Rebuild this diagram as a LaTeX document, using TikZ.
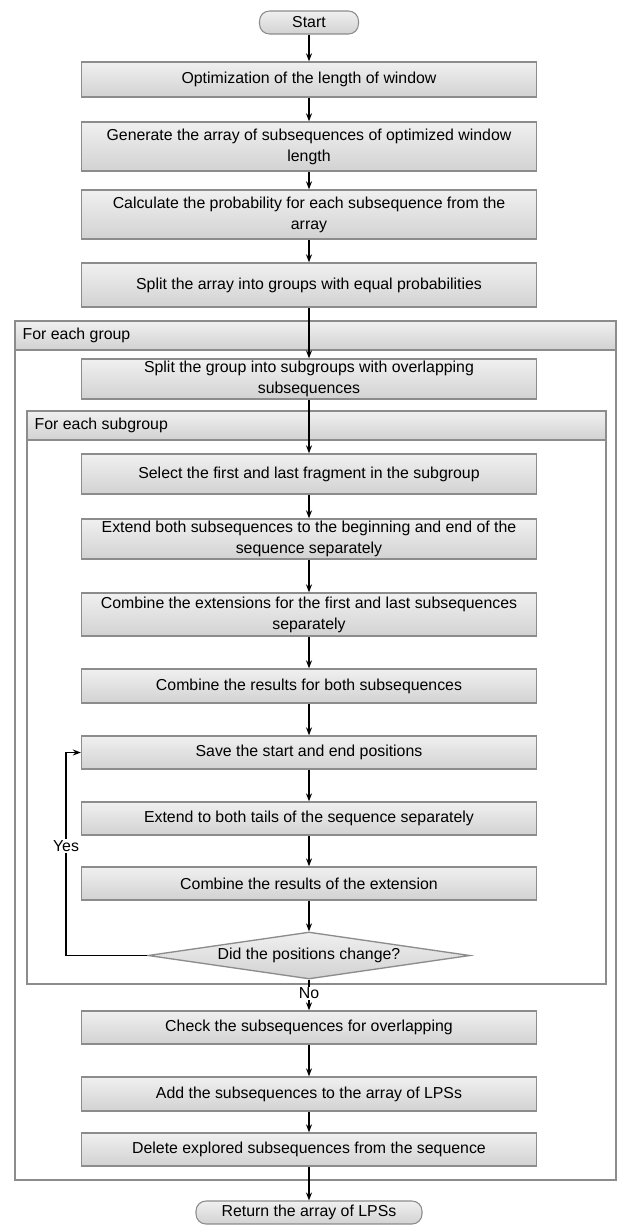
\documentclass[tikz,border=0pt]{standalone}
\usepackage{fontspec}
\setmainfont{Liberation Sans}
\usetikzlibrary{arrows.meta,shapes.geometric}
\definecolor{boxline}{HTML}{8C8C8C}
\definecolor{shadetop}{HTML}{F0F0F0}
\definecolor{shadebot}{HTML}{D2D2D2}

\begin{document}
\begin{tikzpicture}[x=0.75pt, y=-0.75pt,
  font=\fontsize{11.9}{15.75}\selectfont,
  proc/.style={draw=boxline, line width=1pt, top color=shadetop, bottom color=shadebot,
    minimum width=341.25pt, align=center, inner sep=0pt},
  term/.style={draw=boxline, line width=0.8pt, top color=shadetop, bottom color=shadebot,
    rounded corners=7.5pt, minimum height=17.25pt, inner sep=0pt},
  hdr/.style={draw=boxline, line width=1pt, top color=shadetop, bottom color=shadebot},
  arr/.style={-{Stealth[length=6pt, width=4.5pt]}, line width=1pt}]
  \useasboundingbox (0,0) rectangle (619,1225);
  % frames of the two loops
  \draw[boxline, line width=1pt, fill=white] (15,321) rectangle (616,1180);
  \draw[hdr] (15,321) rectangle (616,350);
  \node[anchor=west] (grp) at (18,335.5) {For each group};
  \draw[boxline, line width=1pt, fill=white] (27,411) rectangle (606,984);
  \draw[hdr] (27,411) rectangle (606,440);
  \node[anchor=west] (sgrp) at (30,425.5) {For each subgroup};
  % steps
  \node[term, minimum width=74.25pt] (start) at (309,22.5) {Start};
  \node[proc, minimum height=26.25pt] (b1) at (309,79.5) {Optimization of the length of window};
  \node[proc, minimum height=36.75pt] (b2) at (309,146.5)
    {Generate the array of subsequences of optimized window\\length};
  \node[proc, minimum height=36.75pt] (b3) at (309,214.5)
    {Calculate the probability for each subsequence from the\\array};
  \node[proc, minimum height=33pt] (b4) at (309,285) {Split the array into groups with equal probabilities};
  \node[proc, minimum height=30pt] (sg) at (309,379)
    {Split the group into subgroups with overlapping\\subsequences};
  \node[proc, minimum height=30pt] (sel) at (309,474) {Select the first and last fragment in the subgroup};
  \node[proc, minimum height=30pt] (extb) at (309,539)
    {Extend both subsequences to the beginning and end of the\\sequence separately};
  \node[proc, minimum height=32.25pt] (cext) at (309,614.5)
    {Combine the extensions for the first and last subsequences\\separately};
  \node[proc, minimum height=25.5pt] (cres) at (309,686) {Combine the results for both subsequences};
  \node[proc, minimum height=24.75pt] (save) at (309,752.5) {Save the start and end positions};
  \node[proc, minimum height=24.75pt] (extt) at (309,818.5) {Extend to both tails of the sequence separately};
  \node[proc, minimum height=24.75pt] (cexr) at (309,883.5) {Combine the results of the extension};
  \node[diamond, draw=boxline, line width=1pt, top color=shadetop, bottom color=shadebot,
    minimum width=241.5pt, minimum height=35.25pt, aspect=6.8, inner sep=0pt] (dia) at (309,955.5)
    {Did the positions change?};
  \node[proc, minimum height=24.75pt] (chk) at (309,1027.5) {Check the subsequences for overlapping};
  \node[proc, minimum height=25.5pt] (add) at (309,1094) {Add the subsequences to the array of LPSs};
  \node[proc, minimum height=24.75pt] (del) at (309,1149.5) {Delete explored subsequences from the sequence};
  \node[term, minimum width=169.5pt] (ret) at (309,1212.5) {Return the array of LPSs};
  % connectors
  \draw[arr] (start) -- (b1);
  \draw[arr] (b1) -- (b2);
  \draw[arr] (b2) -- (b3);
  \draw[arr] (b3) -- (b4);
  \draw[arr] (b4) -- (sg);
  \draw[arr] (sg) -- (sel);
  \draw[arr] (sel) -- (extb);
  \draw[arr] (extb) -- (cext);
  \draw[arr] (cext) -- (cres);
  \draw[arr] (cres) -- (save);
  \draw[arr] (save) -- (extt);
  \draw[arr] (extt) -- (cexr);
  \draw[arr] (cexr) -- (dia);
  \draw[arr] (dia.west) -- (66,955.5) |- (save.west)
    node[pos=0.27, fill=white, inner sep=1pt] (yes) {Yes};
  \draw[arr] (dia) -- (chk) node[pos=0.45, fill=white, inner sep=1pt] (no) {No};
  \draw[arr] (chk) -- (add);
  \draw[arr] (add) -- (del);
  \draw[arr] (del) -- (ret);
\end{tikzpicture}
\end{document}
